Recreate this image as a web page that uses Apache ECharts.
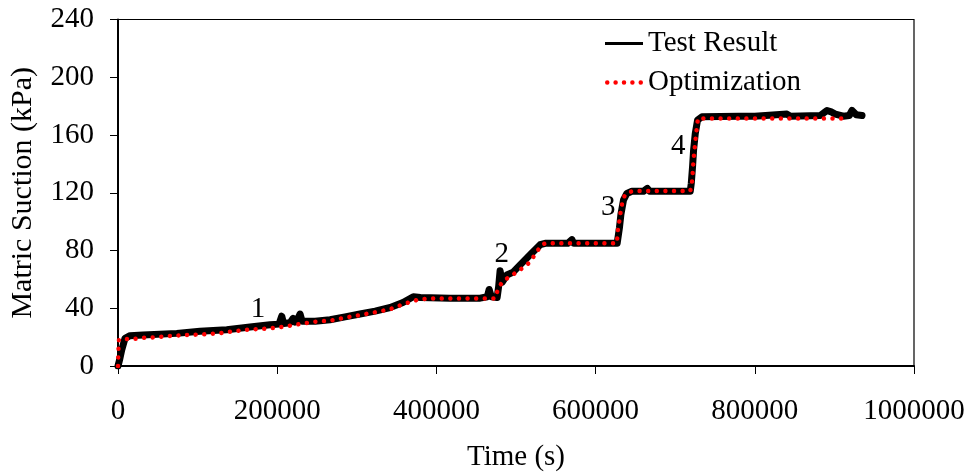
<!DOCTYPE html>
<html>
<head>
<meta charset="utf-8">
<script src="https://cdn.jsdelivr.net/npm/echarts@6/dist/echarts.min.js"></script>
<style>
  html, body { margin: 0; padding: 0; background: #fff; }
  #chart { width: 972px; height: 472px; }
</style>
</head>
<body>
<div id="chart"></div>
<script>
// Measured matric suction during the staged test (time in s, suction in kPa)
const timeTest = [0, 1900, 4650, 8800, 15100, 31400, 73800, 103000, 136600, 165900, 191000, 202300, 205700, 208000, 216200, 220000, 222500, 226200, 228700, 231300, 247600, 266400, 285300, 304000, 323000, 342000, 358000, 371000, 380000, 417000, 455000, 464000, 466300, 469000, 476300, 478200, 480000, 482600, 488500, 496400, 505200, 517800, 530400, 536600, 565000, 570200, 572500, 605800, 627100, 630000, 631800, 635100, 639300, 645600, 660000, 665000, 668000, 693700, 718900, 720200, 721800, 723100, 725200, 728100, 733600, 780000, 800000, 840400, 844600, 882300, 886000, 890700, 896000, 901100, 911200, 918700, 922100, 927500, 934700];
const suctionTest = [0, 4, 11, 19.2, 21, 21.5, 22.6, 24, 25.1, 27, 28.5, 29, 34.5, 29.5, 30, 33, 30.5, 33, 36, 31, 31, 32, 34, 36, 38, 40.5, 44, 48, 47.5, 47, 47, 48, 53, 48, 47.5, 55, 66, 58, 63, 65, 70, 77, 84, 85, 85, 87.5, 85, 85, 85, 96, 105, 115, 119.5, 121, 121, 123, 121, 121, 121, 126.5, 138, 149.6, 161, 170.4, 172.6, 173, 173, 174.5, 173, 173.5, 175, 177, 176, 174.5, 173, 173.5, 177, 174, 173.5];

// Fitted (optimized) suction curve
const timeOpt = [0, 400, 1200, 11700, 22600, 33000, 44000, 64500, 85500, 106400, 126000, 147000, 168000, 188900, 207700, 228700, 247600, 266400, 285300, 304100, 323000, 341800, 358600, 375400, 390000, 430000, 473800, 476700, 480100, 485100, 492700, 500200, 507400, 515700, 522000, 527000, 532500, 536600, 580000, 626800, 627700, 630000, 631800, 633800, 636300, 639300, 647600, 680000, 718900, 721000, 721800, 723000, 724300, 725200, 726400, 727300, 728600, 740000, 800000, 918700];
const suctionOpt = [0, 9, 18.3, 18.7, 18.9, 19.6, 19.8, 20.8, 21.5, 21.9, 22.6, 24.2, 25.4, 25.9, 27.2, 29.1, 30.7, 31.4, 33.5, 35.3, 37.2, 39.3, 42.9, 45.7, 46.8, 46.8, 46.8, 52, 56, 59.6, 61.8, 64.9, 67.6, 71.1, 75.7, 79.8, 83.8, 85, 85, 85, 93, 101, 108, 113.8, 117.7, 120, 121.2, 121.2, 121.2, 126.5, 132.3, 142.7, 149.6, 155.3, 161.1, 165.7, 171.5, 171.5, 171.5, 171.5];

// Loading stage numbers placed beside each step
const stageNames = ['1', '2', '3', '4'];
const stageTime = [176000, 482000, 615800, 703800];
const stageSuction = [39.5, 77.6, 109.8, 152.4];

const xTicks = [0, 1000000, 200000];   // min, max, interval
const yTicks = [0, 240, 40];

const serif = '"Liberation Serif", "Times New Roman", serif';
const fs = 29;

const zip = (a, b) => a.map((v, i) => [v, b[i]]);

// legend glyphs: a solid bar and a row of five round dots
const dot = cx => `M${cx - 2.25},2.25 A2.25,2.25 0 1 1 ${cx + 2.25},2.25 A2.25,2.25 0 1 1 ${cx - 2.25},2.25 Z`;
const dotsIcon = 'path://' + [2.25, 10.6, 19, 27.4, 35.75].map(dot).join(' ');
const barIcon = 'path://M0,0.75 L38,0.75 L38,3.75 L0,3.75 Z M0,0 L0,0.01 M0,4.5 L0,4.49';

const chart = echarts.init(document.getElementById('chart'), null, { renderer: 'canvas' });
chart.setOption({
  animation: false,
  backgroundColor: '#fff',
  textStyle: { fontFamily: serif, color: '#000' },
  grid: {
    left: 118, right: 58, top: 19.5, bottom: 106,
    containLabel: false, outerBoundsMode: 'none',
    show: true, borderColor: '#000', borderWidth: 1.2, backgroundColor: 'transparent'
  },
  legend: {
    orient: 'vertical',
    left: 600, top: 24,
    itemWidth: 38, itemHeight: 4.5, itemGap: 10,
    textStyle: { fontFamily: serif, fontSize: fs, color: '#000' },
    data: [
      { name: 'Test Result', icon: barIcon, itemStyle: { color: '#000' } },
      { name: 'Optimization', icon: dotsIcon, itemStyle: { color: '#ff0000' } }
    ]
  },
  xAxis: {
    type: 'value',
    min: xTicks[0], max: xTicks[1], interval: xTicks[2],
    name: 'Time (s)', nameLocation: 'middle', nameGap: 77,
    nameTextStyle: { fontFamily: serif, fontSize: fs, color: '#000' },
    axisLine: { show: true, lineStyle: { color: '#000', width: 2 } },
    axisTick: { show: true, length: 8, lineStyle: { color: '#000', width: 1 } },
    axisLabel: { fontFamily: serif, fontSize: fs, color: '#000', margin: 31, formatter: v => String(v) },
    splitLine: { show: false }
  },
  yAxis: {
    type: 'value',
    min: yTicks[0], max: yTicks[1], interval: yTicks[2],
    name: 'Matric Suction (kPa)', nameLocation: 'middle', nameGap: 80,
    nameTextStyle: { fontFamily: serif, fontSize: 30, color: '#000' },
    axisLine: { show: true, lineStyle: { color: '#000', width: 2 } },
    axisTick: { show: true, length: 8, lineStyle: { color: '#000', width: 1 } },
    axisLabel: { fontFamily: serif, fontSize: fs, color: '#000', margin: 24 },
    splitLine: { show: false }
  },
  series: [
    {
      name: 'Test Result',
      type: 'line',
      data: zip(timeTest, suctionTest),
      symbol: 'none',
      lineStyle: { color: '#000', width: 7, join: 'round', cap: 'round' },
      itemStyle: { color: '#000' },
      z: 2
    },
    {
      name: 'Optimization',
      type: 'line',
      data: zip(timeOpt, suctionOpt),
      symbol: 'none',
      lineStyle: { color: '#ff0000', width: 4.5, type: [0.01, 8.6], cap: 'round', join: 'round' },
      itemStyle: { color: '#ff0000' },
      z: 3
    },
    {
      name: 'stages',
      type: 'scatter',
      data: zip(stageTime, stageSuction).map((p, i) => ({ value: p, label: { formatter: stageNames[i] } })),
      symbolSize: 0.01,
      itemStyle: { color: '#000', opacity: 1 },
      label: {
        show: true, position: 'inside', fontFamily: serif, fontSize: fs,
        color: '#000', textBorderWidth: 0, opacity: 1
      },
      silent: true,
      z: 4
    }
  ]
});
</script>
</body>
</html>
